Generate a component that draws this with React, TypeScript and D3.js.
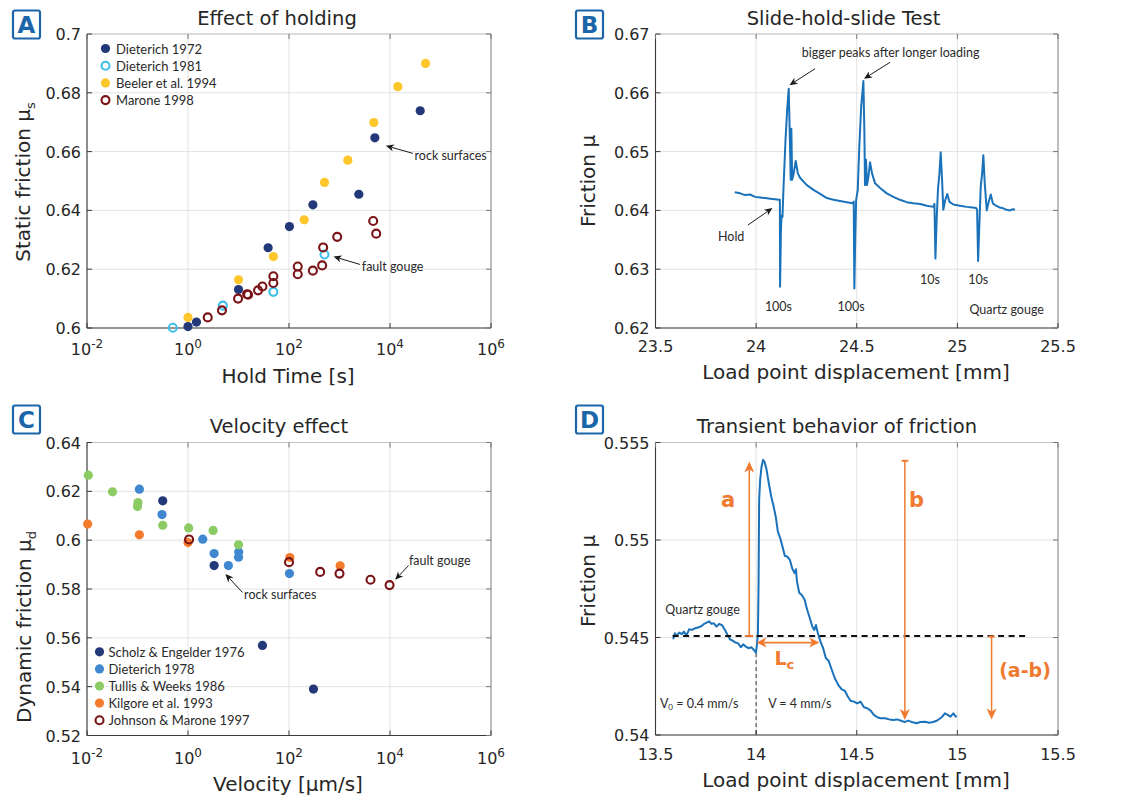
import React from 'react';
import * as d3 from 'd3';

// ---------------- Panel A: Effect of holding ----------------
const d72Time = [1, 1.47, 10, 38.6, 102, 297, 2415, 5012, 39600];
const d72Mu = [0.6005, 0.602, 0.6131, 0.6273, 0.6345, 0.6419, 0.6455, 0.6647, 0.6739];
const d81Time = [0.5, 4.9, 49, 505];
const d81Mu = [0.6001, 0.6076, 0.6123, 0.625];
const beelerTime = [1, 10, 49, 200, 505, 1462, 4786, 14300, 50600];
const beelerMu = [0.6036, 0.6164, 0.6243, 0.6368, 0.6495, 0.6571, 0.6699, 0.6821, 0.69];
const maroneTime = [2.46, 4.7, 9.8, 14.8, 15.5, 24.4, 29.8, 49, 49, 149, 149, 297, 453, 474, 900, 4645, 5333];
const maroneMu = [0.6036, 0.606, 0.61, 0.6115, 0.6113, 0.6128, 0.6141, 0.6153, 0.6176, 0.6183, 0.6209, 0.6195, 0.6213, 0.6274, 0.631, 0.6364, 0.6321];
const legendA = ['Dieterich 1972', 'Dieterich 1981', 'Beeler et al. 1994', 'Marone 1998'];
const holdTicks = [1e-2, 1, 1e2, 1e4, 1e6];
const staticTicks = [0.6, 0.62, 0.64, 0.66, 0.68, 0.7];

// ---------------- Panel B: Slide-hold-slide ----------------
const shsDisp = [23.894, 23.921, 23.945, 23.97, 23.995, 24.02, 24.045, 24.07, 24.094, 24.113, 24.118, 24.119, 24.123, 24.126, 24.131, 24.136, 24.146, 24.154, 24.162, 24.167, 24.172, 24.175, 24.179, 24.185, 24.197, 24.207, 24.219, 24.252, 24.285, 24.318, 24.351, 24.384, 24.417, 24.45, 24.48, 24.485, 24.488, 24.493, 24.497, 24.505, 24.512, 24.522, 24.533, 24.538, 24.541, 24.546, 24.551, 24.558, 24.566, 24.576, 24.591, 24.616, 24.649, 24.682, 24.715, 24.748, 24.781, 24.815, 24.848, 24.881, 24.886, 24.891, 24.897, 24.904, 24.911, 24.917, 24.924, 24.93, 24.94, 24.95, 24.96, 24.98, 25.013, 25.046, 25.076, 25.093, 25.098, 25.103, 25.109, 25.116, 25.123, 25.129, 25.136, 25.146, 25.156, 25.166, 25.176, 25.192, 25.209, 25.225, 25.245, 25.262, 25.275, 25.286];
const shsMu = [0.6431, 0.6429, 0.6426, 0.6427, 0.6423, 0.6422, 0.6421, 0.642, 0.6419, 0.6418, 0.6418, 0.627, 0.6361, 0.6391, 0.6389, 0.6438, 0.652, 0.657, 0.6607, 0.6531, 0.6452, 0.6539, 0.6452, 0.646, 0.6484, 0.6463, 0.6455, 0.6443, 0.6435, 0.6428, 0.6421, 0.6418, 0.6416, 0.6414, 0.6412, 0.6415, 0.6267, 0.6361, 0.6418, 0.6435, 0.6503, 0.6576, 0.662, 0.6531, 0.6443, 0.6486, 0.6443, 0.6457, 0.6482, 0.6463, 0.6446, 0.6438, 0.6429, 0.6423, 0.6418, 0.6414, 0.6412, 0.6411, 0.6408, 0.6406, 0.6411, 0.6318, 0.6384, 0.6438, 0.6463, 0.6499, 0.6452, 0.6401, 0.6418, 0.6428, 0.6415, 0.641, 0.6408, 0.6406, 0.6405, 0.6404, 0.6401, 0.6314, 0.6373, 0.644, 0.6463, 0.6494, 0.6446, 0.64, 0.6415, 0.6427, 0.6412, 0.6408, 0.6405, 0.6404, 0.6401, 0.64, 0.6402, 0.6401];
const shsXTicks = [23.5, 24, 24.5, 25, 25.5];
const shsYTicks = [0.62, 0.63, 0.64, 0.65, 0.66, 0.67];

// ---------------- Panel C: Velocity effect ----------------
const scholzV = [0.316, 3.29, 29.8, 305];
const scholzMu = [0.6161, 0.5896, 0.5569, 0.539];
const d78V = [0.109, 0.306, 1.96, 3.29, 6.3, 10.1, 10, 102];
const d78Mu = [0.6209, 0.6105, 0.6004, 0.5945, 0.5896, 0.5952, 0.593, 0.5863];
const tullisV = [0.0106, 0.032, 0.102, 0.1, 0.316, 1.03, 3.14, 10];
const tullisMu = [0.6266, 0.6198, 0.6154, 0.6138, 0.6061, 0.605, 0.604, 0.5981];
const kilgoreV = [0.0103, 0.109, 1, 104, 1030];
const kilgoreMu = [0.6066, 0.6022, 0.599, 0.5929, 0.5895];
const johnsonV = [1.05, 100, 414, 1000, 4110, 9800];
const johnsonMu = [0.6003, 0.591, 0.587, 0.5863, 0.5838, 0.5816];
const legendC = ['Scholz & Engelder 1976', 'Dieterich 1978', 'Tullis & Weeks 1986', 'Kilgore et al. 1993', 'Johnson & Marone 1997'];
const velTicks = [1e-2, 1, 1e2, 1e4, 1e6];
const dynTicks = [0.52, 0.54, 0.56, 0.58, 0.6, 0.62, 0.64];

// ---------------- Panel D: Transient behavior ----------------
const trDisp = [13.588, 13.596, 13.604, 13.618, 13.631, 13.641, 13.654, 13.667, 13.681, 13.696, 13.712, 13.729, 13.742, 13.754, 13.767, 13.778, 13.79, 13.803, 13.816, 13.831, 13.845, 13.858, 13.87, 13.883, 13.898, 13.911, 13.924, 13.936, 13.949, 13.962, 13.976, 13.989, 13.999, 14.004, 14.009, 14.012, 14.015, 14.02, 14.027, 14.035, 14.043, 14.052, 14.063, 14.075, 14.087, 14.098, 14.108, 14.12, 14.131, 14.143, 14.155, 14.168, 14.179, 14.191, 14.198, 14.203, 14.214, 14.227, 14.241, 14.254, 14.267, 14.279, 14.289, 14.297, 14.307, 14.32, 14.333, 14.347, 14.36, 14.375, 14.391, 14.408, 14.425, 14.441, 14.454, 14.469, 14.486, 14.502, 14.519, 14.536, 14.552, 14.569, 14.585, 14.602, 14.618, 14.64, 14.662, 14.681, 14.701, 14.723, 14.739, 14.756, 14.778, 14.797, 14.817, 14.839, 14.86, 14.88, 14.9, 14.922, 14.938, 14.952, 14.966, 14.98, 14.99, 14.996];
const trMu = [0.54491, 0.54522, 0.54508, 0.54525, 0.54517, 0.5453, 0.54511, 0.54542, 0.54539, 0.54547, 0.54551, 0.54559, 0.5457, 0.54576, 0.54583, 0.5457, 0.54573, 0.54556, 0.5457, 0.54563, 0.54539, 0.54513, 0.54491, 0.54484, 0.54474, 0.5447, 0.5445, 0.54465, 0.54453, 0.54445, 0.5445, 0.54436, 0.54422, 0.54462, 0.54522, 0.54761, 0.55206, 0.55308, 0.55377, 0.55411, 0.55397, 0.5536, 0.55291, 0.55223, 0.55172, 0.55117, 0.55043, 0.55009, 0.54966, 0.54918, 0.54915, 0.54898, 0.54855, 0.5483, 0.5485, 0.54787, 0.5473, 0.54718, 0.54693, 0.54641, 0.54599, 0.54556, 0.54539, 0.54564, 0.54522, 0.54479, 0.54445, 0.54393, 0.54381, 0.54337, 0.54291, 0.54257, 0.54234, 0.54227, 0.542, 0.54176, 0.54171, 0.54162, 0.54171, 0.54142, 0.54137, 0.54125, 0.54103, 0.54091, 0.54086, 0.54086, 0.5408, 0.54077, 0.5408, 0.54072, 0.54067, 0.54074, 0.54065, 0.5406, 0.54067, 0.54068, 0.54063, 0.54067, 0.54074, 0.54091, 0.54111, 0.54103, 0.54094, 0.54111, 0.54097, 0.54091];
const trXTicks = [13.5, 14, 14.5, 15, 15.5];
const trYTicks = [0.54, 0.545, 0.55, 0.555];
const steadyMu = 0.54508;
const steadyRange = [13.585, 15.352];
const stepDisp = 14.0;

// ---------------- styling ----------------
const FONT = "'DejaVu Sans', Verdana, sans-serif";
const NOTE = "Lato, 'Open Sans', sans-serif";
const INK = '#262626';
const GRID = '#e3e3e3';
const LINE = '#1a72bb';
const ORANGE = '#f07a30';
const BOXBLUE = '#1b66a8';
const C = {
  navy: '#233878', cyan: '#3fbfe8', yellow: '#fdc62b', maroon: '#7a1416',
  blue: '#3f88d0', green: '#8ccb63', orange: '#f47a2c',
};

type Scale = any;

function PanelLetter({ x, y, letter }: { x: number; y: number; letter: string }) {
  return (
    <g>
      <rect x={x} y={y} width={27} height={28} rx={2} fill="#fff" stroke={BOXBLUE} strokeWidth={2.2} />
      <text x={x + 13.5} y={y + 22.5} textAnchor="middle" fontFamily={FONT} fontWeight="bold" fontSize={23} fill={BOXBLUE}>{letter}</text>
    </g>
  );
}

function Frame(props: {
  xs: Scale; ys: Scale; xTicks: number[]; yTicks: number[]; log?: boolean;
  xFmt: (v: number) => string; yFmt: (v: number) => string; tickBase: number;
}) {
  const { xs, ys, xTicks, yTicks, log, xFmt, yFmt, tickBase } = props;
  const [x0, x1] = xs.range();
  const [y0, y1] = ys.range();
  const tk = 5;
  return (
    <g>
      {xTicks.map((t, i) => (
        <line key={'gx' + i} x1={xs(t)} x2={xs(t)} y1={y1} y2={y0} stroke={GRID} strokeWidth={1} />
      ))}
      {yTicks.map((t, i) => (
        <line key={'gy' + i} x1={x0} x2={x1} y1={ys(t)} y2={ys(t)} stroke={GRID} strokeWidth={1} />
      ))}
      <line x1={x0} x2={x1} y1={y1} y2={y1} stroke="#c4c4c4" strokeWidth={1} />
      <line x1={x1} x2={x1} y1={y1} y2={y0} stroke="#8a8a8a" strokeWidth={1} />
      <line x1={x0} x2={x0} y1={y1} y2={y0} stroke="#3a3a3a" strokeWidth={1.1} />
      <line x1={x0} x2={x1} y1={y0} y2={y0} stroke="#3a3a3a" strokeWidth={1.1} />
      {xTicks.map((t, i) => (
        <g key={'tx' + i}>
          <line x1={xs(t)} x2={xs(t)} y1={y0} y2={y0 - tk} stroke="#3a3a3a" />
          <line x1={xs(t)} x2={xs(t)} y1={y1} y2={y1 + tk} stroke="#777" />
          {log ? (
            <text x={xs(t)} y={tickBase} textAnchor="middle" fontFamily={FONT} fontSize={16} fill={INK}>
              10<tspan dy={-7.5} fontSize={12}>{xFmt(t)}</tspan>
            </text>
          ) : (
            <text x={xs(t)} y={tickBase} textAnchor="middle" fontFamily={FONT} fontSize={16} fill={INK}>{xFmt(t)}</text>
          )}
        </g>
      ))}
      {yTicks.map((t, i) => (
        <g key={'ty' + i}>
          <line x1={x0} x2={x0 + tk} y1={ys(t)} y2={ys(t)} stroke="#3a3a3a" />
          <line x1={x1} x2={x1 - tk} y1={ys(t)} y2={ys(t)} stroke="#777" />
          <text x={x0 - 6} y={ys(t) + 6} textAnchor="end" fontFamily={FONT} fontSize={16} fill={INK}>{yFmt(t)}</text>
        </g>
      ))}
    </g>
  );
}

function Arrow({ x1, y1, x2, y2, color = '#1a1a1a', w = 1, len = 8, hw = 3.6, both = false }:
  { x1: number; y1: number; x2: number; y2: number; color?: string; w?: number; len?: number; hw?: number; both?: boolean }) {
  const dx = x2 - x1, dy = y2 - y1;
  const L = Math.hypot(dx, dy);
  const ux = dx / L, uy = dy / L;
  const nx = -uy, ny = ux;
  const head = (tx: number, ty: number, sx: number, sy: number) => {
    const bx = tx - sx * len, by = ty - sy * len;
    const mx = tx - sx * len * 0.72, my = ty - sy * len * 0.72;
    return `M${tx},${ty} L${bx + nx * hw},${by + ny * hw} L${mx},${my} L${bx - nx * hw},${by - ny * hw} Z`;
  };
  const sx1 = both ? x1 + ux * len * 0.7 : x1;
  const sy1 = both ? y1 + uy * len * 0.7 : y1;
  return (
    <g>
      <line x1={sx1} y1={sy1} x2={x2 - ux * len * 0.7} y2={y2 - uy * len * 0.7} stroke={color} strokeWidth={w} />
      <path d={head(x2, y2, ux, uy)} fill={color} />
      {both && <path d={head(x1, y1, -ux, -uy)} fill={color} />}
    </g>
  );
}

function Dot({ x, y, color, open }: { x: number; y: number; color: string; open?: boolean }) {
  return open
    ? <circle cx={x} cy={y} r={4} fill="none" stroke={color} strokeWidth={2.1} />
    : <circle cx={x} cy={y} r={4.6} fill={color} />;
}

function Note({ x, y, children, anchor = 'start', size = 12.5 }: any) {
  return <text x={x} y={y} textAnchor={anchor} dominantBaseline="central" fontFamily={NOTE} fontSize={size} fill="#2a2a2a">{children}</text>;
}

const logFmt = (v: number) => String(Math.round(Math.log10(v)));
const numFmt = (v: number) => String(+v.toFixed(3));

export default function App() {
  // Panel A scales
  const xA = d3.scaleLog().domain([1e-2, 1e6]).range([87, 491]);
  const yA = d3.scaleLinear().domain([0.6, 0.7]).range([328, 34]);
  // Panel B
  const xB = d3.scaleLinear().domain([23.5, 25.5]).range([655.5, 1058]);
  const yB = d3.scaleLinear().domain([0.62, 0.67]).range([328, 34]);
  // Panel C
  const xC = d3.scaleLog().domain([1e-2, 1e6]).range([87, 491]);
  const yC = d3.scaleLinear().domain([0.52, 0.64]).range([735.5, 442.5]);
  // Panel D
  const xD = d3.scaleLinear().domain([13.5, 15.5]).range([655.5, 1058]);
  const yD = d3.scaleLinear().domain([0.54, 0.555]).range([735, 442.5]);

  const lineB = d3.line<number>().x((_, i) => xB(shsDisp[i])).y((d) => yB(d));
  const lineD = d3.line<number>().x((_, i) => xD(trDisp[i])).y((d) => yD(d));

  const seriesA = [
    { t: d72Time, m: d72Mu, color: C.navy, open: false },
    { t: d81Time, m: d81Mu, color: C.cyan, open: true },
    { t: beelerTime, m: beelerMu, color: C.yellow, open: false },
    { t: maroneTime, m: maroneMu, color: C.maroon, open: true },
  ];
  const seriesC = [
    { t: scholzV, m: scholzMu, color: C.navy, open: false },
    { t: d78V, m: d78Mu, color: C.blue, open: false },
    { t: tullisV, m: tullisMu, color: C.green, open: false },
    { t: kilgoreV, m: kilgoreMu, color: C.orange, open: false },
    { t: johnsonV, m: johnsonMu, color: C.maroon, open: true },
  ];

  return (
    <svg width={1121} height={798} style={{ position: 'absolute', left: 0, top: 0, background: '#fff' }}>
      <rect width={1121} height={798} fill="#fff" />

      {/* ---------------- A ---------------- */}
      <Frame xs={xA} ys={yA} xTicks={holdTicks} yTicks={staticTicks} log xFmt={logFmt} yFmt={numFmt} tickBase={355} />
      <text x={277} y={25} textAnchor="middle" fontFamily={FONT} fontSize={19.5} fill={INK}>Effect of holding</text>
      <text x={288} y={383} textAnchor="middle" fontFamily={FONT} fontSize={20} fill={INK}>Hold Time [s]</text>
      <text transform="translate(30,182) rotate(-90)" textAnchor="middle" fontFamily={FONT} fontSize={20} fill={INK}>
        Static friction μ<tspan dy={5} fontSize={13}>s</tspan>
      </text>
      {seriesA.map((s, si) => s.t.map((t, i) => (
        <Dot key={`a${si}-${i}`} x={xA(t)} y={yA(s.m[i])} color={s.color} open={s.open} />
      )))}
      {legendA.map((lab, i) => (
        <g key={'la' + i}>
          <Dot x={105.5} y={48.5 + i * 17.2} color={seriesA[i].color} open={seriesA[i].open} />
          <Note x={116} y={48.5 + i * 17.2} size={13}>{lab}</Note>
        </g>
      ))}
      <Arrow x1={xA(10 ** 4.453)} y1={yA(0.6594)} x2={xA(10 ** 3.918)} y2={yA(0.662)} />
      <Note x={xA(10 ** 4.486)} y={yA(0.6586)}>rock surfaces</Note>
      <Arrow x1={xA(10 ** 3.409)} y1={yA(0.6216)} x2={xA(10 ** 2.881)} y2={yA(0.6243)} />
      <Note x={xA(10 ** 3.442)} y={yA(0.6209)}>fault gouge</Note>
      <PanelLetter x={13} y={10.5} letter="A" />

      {/* ---------------- B ---------------- */}
      <Frame xs={xB} ys={yB} xTicks={shsXTicks} yTicks={shsYTicks} xFmt={numFmt} yFmt={numFmt} tickBase={352} />
      <text x={843.5} y={25} textAnchor="middle" fontFamily={FONT} fontSize={19.5} fill={INK}>Slide-hold-slide Test</text>
      <text x={856} y={379} textAnchor="middle" fontFamily={FONT} fontSize={20} fill={INK}>Load point displacement [mm]</text>
      <text transform="translate(595,181) rotate(-90)" textAnchor="middle" fontFamily={FONT} fontSize={20} fill={INK}>Friction μ</text>
      <path d={lineB(shsMu) || ''} fill="none" stroke={LINE} strokeWidth={2} strokeLinejoin="round" />
      <Note x={xB(24.227)} y={yB(0.6669)}>bigger peaks after longer loading</Note>
      <Arrow x1={xB(24.293)} y1={yB(0.6641)} x2={xB(24.166)} y2={yB(0.6613)} />
      <Arrow x1={xB(24.666)} y1={yB(0.6652)} x2={xB(24.536)} y2={yB(0.6624)} />
      <Note x={xB(23.876)} y={yB(0.6356)} anchor="middle">Hold</Note>
      <Arrow x1={xB(23.959)} y1={yB(0.6375)} x2={xB(24.081)} y2={yB(0.6404)} />
      <Note x={xB(24.111)} y={yB(0.6236)} anchor="middle">100s</Note>
      <Note x={xB(24.472)} y={yB(0.6236)} anchor="middle">100s</Note>
      <Note x={xB(24.864)} y={yB(0.6283)} anchor="middle">10s</Note>
      <Note x={xB(25.104)} y={yB(0.6283)} anchor="middle">10s</Note>
      <Note x={xB(25.245)} y={yB(0.6231)} anchor="middle">Quartz gouge</Note>
      <PanelLetter x={576} y={10.5} letter="B" />

      {/* ---------------- C ---------------- */}
      <Frame xs={xC} ys={yC} xTicks={velTicks} yTicks={dynTicks} log xFmt={logFmt} yFmt={numFmt} tickBase={764} />
      <text x={279} y={433} textAnchor="middle" fontFamily={FONT} fontSize={19.5} fill={INK}>Velocity effect</text>
      <text x={288} y={791} textAnchor="middle" fontFamily={FONT} fontSize={20} fill={INK}>Velocity [μm/s]</text>
      <text transform="translate(31,627) rotate(-90)" textAnchor="middle" fontFamily={FONT} fontSize={20} fill={INK}>
        Dynamic friction μ<tspan dy={5} fontSize={13}>d</tspan>
      </text>
      {seriesC.map((s, si) => s.t.map((t, i) => (
        <Dot key={`c${si}-${i}`} x={xC(t)} y={yC(s.m[i])} color={s.color} open={s.open} />
      )))}
      {legendC.map((lab, i) => (
        <g key={'lc' + i}>
          <Dot x={99.5} y={651.8 + i * 17.1} color={seriesC[i].color} open={seriesC[i].open} />
          <Note x={108.5} y={651.8 + i * 17.1} size={13}>{lab}</Note>
        </g>
      ))}
      <Arrow x1={xC(10 ** 1.078)} y1={yC(0.5786)} x2={xC(10 ** 0.741)} y2={yC(0.5861)} />
      <Note x={xC(10 ** 1.111)} y={yC(0.5779)}>rock surfaces</Note>
      <Arrow x1={xC(10 ** 4.367)} y1={yC(0.5896)} x2={xC(10 ** 4.103)} y2={yC(0.5838)} />
      <Note x={xC(10 ** 4.374)} y={yC(0.5915)}>fault gouge</Note>
      <PanelLetter x={13} y={405.5} letter="C" />

      {/* ---------------- D ---------------- */}
      <Frame xs={xD} ys={yD} xTicks={trXTicks} yTicks={trYTicks} xFmt={numFmt} yFmt={numFmt} tickBase={760} />
      <text x={837} y={433} textAnchor="middle" fontFamily={FONT} fontSize={19.5} fill={INK}>Transient behavior of friction</text>
      <text x={856} y={787} textAnchor="middle" fontFamily={FONT} fontSize={20} fill={INK}>Load point displacement [mm]</text>
      <text transform="translate(595,581) rotate(-90)" textAnchor="middle" fontFamily={FONT} fontSize={20} fill={INK}>Friction μ</text>
      <line x1={xD(stepDisp)} x2={xD(stepDisp)} y1={yD(0.5442)} y2={yD(0.54)} stroke="#333" strokeWidth={1} strokeDasharray="4,3" />
      <path d={lineD(trMu) || ''} fill="none" stroke={LINE} strokeWidth={2} strokeLinejoin="round" />
      <line x1={xD(steadyRange[0])} x2={xD(steadyRange[1])} y1={yD(steadyMu)} y2={yD(steadyMu)} stroke="#111" strokeWidth={2} strokeDasharray="6,4.5" />
      {/* a */}
      <Arrow x1={xD(13.966)} y1={yD(steadyMu)} x2={xD(13.966)} y2={yD(0.55402)} color={ORANGE} w={1.5} len={11} hw={5} />
      <line x1={xD(13.944)} x2={xD(13.986)} y1={yD(steadyMu)} y2={yD(steadyMu)} stroke={ORANGE} strokeWidth={2} />
      <text x={xD(13.861)} y={yD(0.55206)} textAnchor="middle" dominantBaseline="central" fontFamily={FONT} fontWeight="bold" fontSize={21} fill={ORANGE}>a</text>
      {/* b */}
      <Arrow x1={xD(14.739)} y1={yD(0.55406)} x2={xD(14.739)} y2={yD(0.54077)} color={ORANGE} w={1.5} len={11} hw={5} />
      <line x1={xD(14.723)} x2={xD(14.756)} y1={yD(0.55406)} y2={yD(0.55406)} stroke={ORANGE} strokeWidth={2} />
      <text x={xD(14.797)} y={yD(0.55206)} textAnchor="middle" dominantBaseline="central" fontFamily={FONT} fontWeight="bold" fontSize={21} fill={ORANGE}>b</text>
      {/* a-b */}
      <Arrow x1={xD(15.17)} y1={yD(0.54505)} x2={xD(15.17)} y2={yD(0.5408)} color={ORANGE} w={1.5} len={11} hw={5} />
      <line x1={xD(15.154)} x2={xD(15.186)} y1={yD(0.54505)} y2={yD(0.54505)} stroke={ORANGE} strokeWidth={2} />
      <text x={xD(15.336)} y={yD(0.54334)} textAnchor="middle" dominantBaseline="central" fontFamily={FONT} fontWeight="bold" fontSize={19} fill={ORANGE}>(a-b)</text>
      {/* Lc */}
      <Arrow x1={xD(14.002)} y1={yD(0.54474)} x2={xD(14.314)} y2={yD(0.54474)} color={ORANGE} w={1.8} len={10} hw={5} both />
      <text x={xD(14.14)} y={yD(0.54393)} textAnchor="middle" dominantBaseline="central" fontFamily={FONT} fontWeight="bold" fontSize={19} fill={ORANGE}>
        L<tspan dy={6} fontSize={13}>c</tspan>
      </text>
      <Note x={xD(13.734)} y={yD(0.54645)} anchor="middle">Quartz gouge</Note>
      <Note x={xD(13.717)} y={yD(0.54162)} anchor="middle">V<tspan dy={4} fontSize={8}>0</tspan><tspan dy={-4}> = 0.4 mm/s</tspan></Note>
      <Note x={xD(14.217)} y={yD(0.54162)} anchor="middle">V = 4 mm/s</Note>
      <PanelLetter x={576} y={405.5} letter="D" />
    </svg>
  );
}
